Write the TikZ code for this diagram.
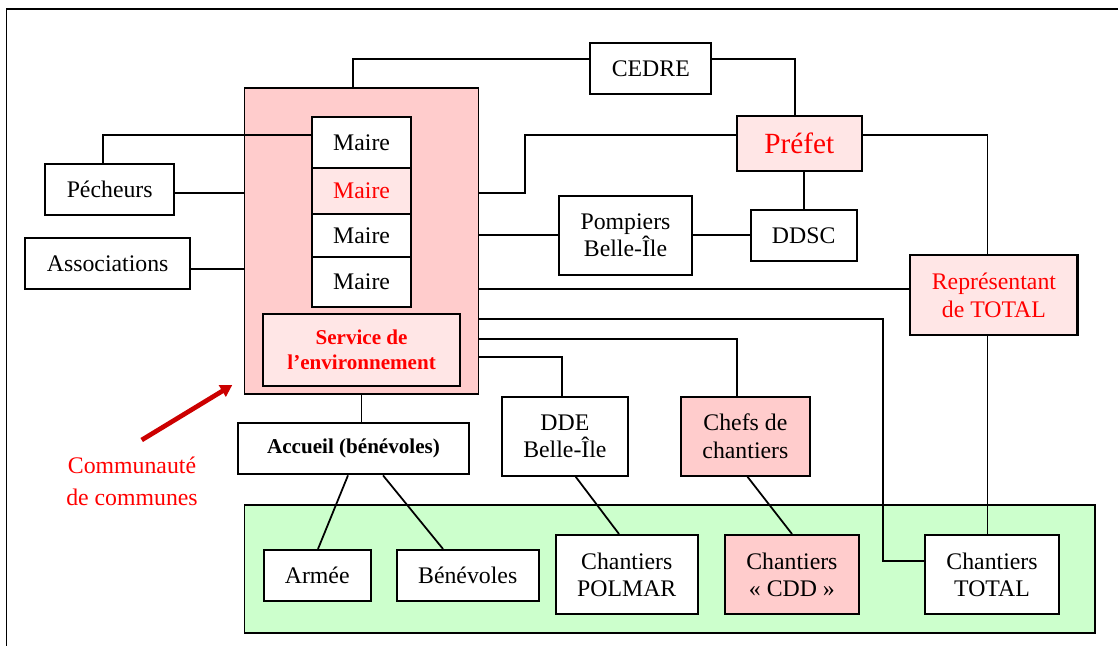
\documentclass[tikz,border=0pt]{standalone}
\usepackage{fontspec}
\setmainfont{Liberation Serif}
\usetikzlibrary{arrows.meta}
\usetikzlibrary{backgrounds}

\definecolor{rose}{HTML}{FFCCCC}
\definecolor{roseclair}{HTML}{FFE6E6}
\definecolor{vert}{HTML}{CCFFCC}
\definecolor{rouge}{HTML}{FF0000}
\definecolor{fleche}{HTML}{CC0000}

\tikzset{
  boite/.style={draw, line width=1.8pt, fill=white, inner sep=0pt, align=center,
    font=\fontsize{20.3}{23.3}\selectfont},
  taille/.style 2 args={minimum width=#1*0.03cm, minimum height=#2*0.03cm},
  gras/.style={font=\fontsize{18}{21.3}\selectfont\bfseries},
  lien/.style={line width=1.5pt},
}

\begin{document}
\begin{tikzpicture}[x=0.03cm, y=-0.03cm]
  \useasboundingbox (0,0) rectangle (1118,646);

  % cadre
  \draw[line width=1.5pt] (1130,9) -- (6.4,9) -- (6.4,660);

  % communaute de communes
  \node[boite, taille={99.6}{51}] (maire1) at (361.6,142.8) {Maire};
  \node[boite, fill=roseclair, text=rouge, taille={99.6}{45.7}] (maire2) at (361.6,191.2) {Maire};
  \node[boite, taille={99.6}{42.7}] (maire3) at (361.6,235.3) {Maire};
  \node[boite, taille={99.6}{50.6}] (maire4) at (361.6,282) {Maire};
  \node[boite, gras, fill=roseclair, text=rouge, taille={196.8}{71.7}] (service) at (361.6,349.8)
    {Service de\\l’environnement};

  % acteurs
  \node[boite, taille={128.6}{51}] (pecheurs) at (109.7,189.5) {Pécheurs};
  \node[boite, taille={164.6}{51}] (assoc) at (107.7,263.8) {Associations};
  \node[boite, taille={121}{51}] (cedre) at (650.8,68.8) {CEDRE};
  \node[boite, fill=roseclair, text=rouge, font=\fontsize{25}{30}\selectfont, taille={124.9}{54.7}] (prefet) at (799.3,143.3) {Préfet};
  \node[boite, taille={133}{79.6}] (pompiers) at (625.5,235.5) {Pompiers\\Belle-Île};
  \node[boite, taille={106}{51}] (ddsc) at (803.7,235.5) {DDSC};
  \node[boite, fill=roseclair, text=rouge, taille={167.2}{79.7}] (repr) at (993.9,295.2) {Représentant\\de TOTAL};
  \node[boite, gras, taille={231.1}{51}] (accueil) at (353.5,448.8) {Accueil (bénévoles)};
  \node[boite, taille={125.7}{79}] (dde) at (564.9,436.2) {DDE\\Belle-Île};
  \node[boite, fill=rose, taille={128.8}{79}] (chefs) at (745.4,436.2) {Chefs de\\chantiers};

  % chantiers
  \node[boite, taille={107.1}{51}] (armee) at (317.2,575.5) {Armée};
  \node[boite, taille={141.8}{51}] (benevoles) at (467.7,575.5) {Bénévoles};
  \node[boite, taille={141.5}{79.3}] (polmar) at (626.8,574.7) {Chantiers\\POLMAR};
  \node[boite, fill=rose, taille={133.7}{79.3}] (cdd) at (791.9,574.7) {Chantiers\\« CDD »};
  \node[boite, taille={134}{79.3}] (ctotal) at (992,574.7) {Chantiers\\TOTAL};

  \begin{scope}[on background layer]
    % grands blocs
    \node[boite, line width=1.5pt, fill=rose, taille={234}{306.3}] (commu) at (361.6,240.8) {};
    \node[boite, line width=1.5pt, fill=vert, taille={850.6}{128.3}] (terrain) at (669.9,569.2) {};

    % liaisons
    \draw[lien] (pecheurs.north -| 103,0) |- (maire1.west |- 0,135.3);
    \draw[lien] (commu.north -| 353,0) |- (cedre.west |- 0,59);
    \draw[lien] (cedre.east |- 0,59) -| (prefet.north -| 795,0);
    \draw[lien] (pecheurs.east |- 0,192.7) -- (commu.west |- 0,192.7);
    \draw[lien] (assoc.east |- 0,269.3) -- (commu.west |- 0,269.3);
    \draw[lien] (commu.east |- 0,192.7) -- (525,192.7) |- (prefet.west |- 0,135.3);
    \draw[lien] (prefet.east |- 0,135.3) -| (repr.north -| 987.6,0);
    \draw[lien] (prefet.south -| ddsc.north) -- (ddsc.north);
    \draw[lien] (commu.east |- 0,235.3) -- (pompiers.west |- 0,235.3);
    \draw[lien] (pompiers.east |- 0,235.3) -- (ddsc.west |- 0,235.3);
    \draw[lien] (commu.east |- 0,288.7) -- (repr.west |- 0,288.7);
    \draw[lien] (commu.east |- 0,319.3) -| (883,560.7) -- (ctotal.west |- 0,560.7);
    \draw[lien] (commu.east |- 0,339.3) -| (chefs.north -| 737,0);
    \draw[lien] (commu.east |- 0,357.3) -| (dde.north -| 562,0);
    \draw[lien] (repr.south -| 987.6,0) -- (ctotal.north -| 987.6,0);
    \draw[lien] (commu.south) -- (commu.south |- accueil.north);
  \end{scope}

  \draw[lien] (accueil.south -| 348,0) -- (armee.north -| 318,0);
  \draw[lien] (accueil.south -| 383,0) -- (benevoles.north -| 443,0);
  \draw[lien] (dde.south -| 575.7,0) -- (polmar.north -| 619,0);
  \draw[lien] (chefs.south -| 747.5,0) -- (cdd.north -| 792,0);

  % legende
  \node[text=rouge, align=center, inner sep=0pt, font=\fontsize{20.3}{27.3}\selectfont] (legende) at (132,481)
    {Communauté\\de communes};
  \coordinate (depart) at (141.7,440);
  \coordinate (pointe) at (232.3,385);
  \draw[fleche, line width=4pt, -{Triangle[length=10pt, width=11pt]}] (depart) -- (pointe);
\end{tikzpicture}
\end{document}
